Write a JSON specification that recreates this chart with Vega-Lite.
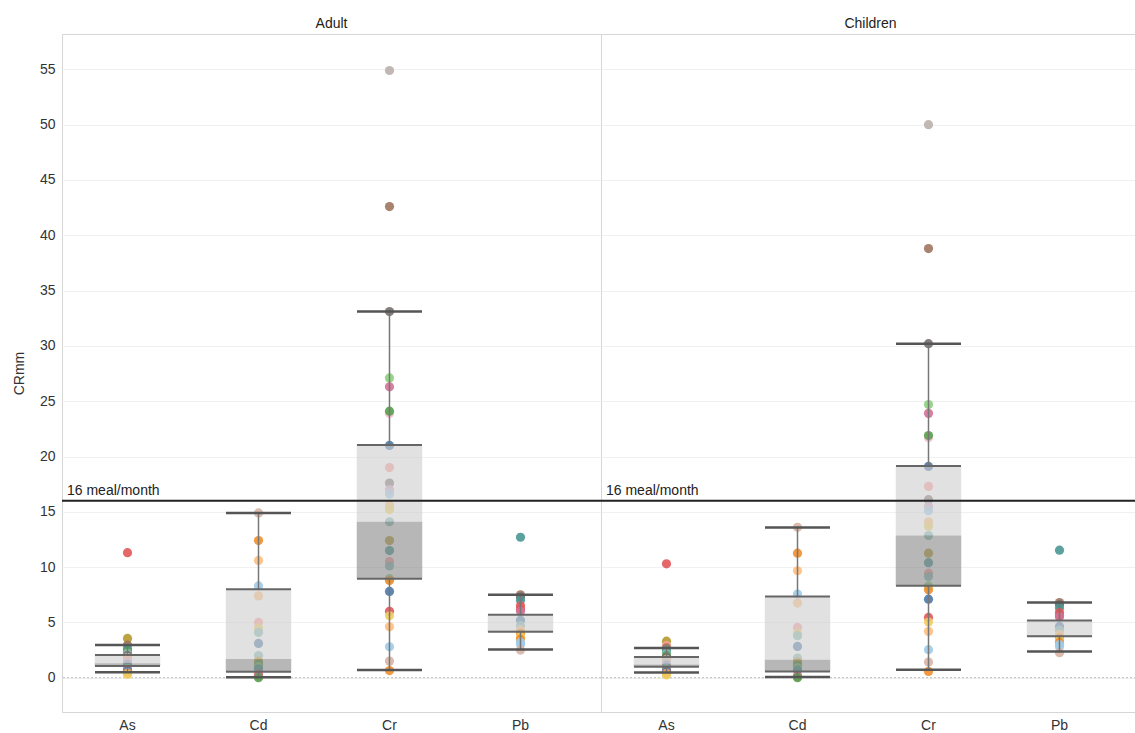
{
  "$schema": "https://vega.github.io/schema/vega-lite/v6.json",
  "padding": {"left": 12, "top": 17, "right": 0, "bottom": 0},
  "background": "white",
  "bounds": "flush",
  "config": {
    "font": "Liberation Sans",
    "view": {"stroke": "#d6d6d6", "strokeWidth": 1},
    "axis": {"labelFont": "Liberation Sans", "titleFont": "Liberation Sans"},
    "header": {"labelFont": "Liberation Sans"}
  },
  "data": {"values": [
    {"g":"Adult","k":"ref"},
    {"g":"Children","k":"ref"},
    {"g":"Adult","m":"As","k":"box","lo":0.5,"q1":1.05,"med":1.3,"q3":2.05,"hi":2.95},
    {"g":"Adult","m":"Cd","k":"box","lo":0.05,"q1":0.55,"med":1.7,"q3":8.0,"hi":14.9},
    {"g":"Adult","m":"Cr","k":"box","lo":0.7,"q1":8.95,"med":14.1,"q3":21.05,"hi":33.1},
    {"g":"Adult","m":"Pb","k":"box","lo":2.55,"q1":4.15,"med":4.25,"q3":5.7,"hi":7.5},
    {"g":"Children","m":"As","k":"box","lo":0.48,"q1":1.0,"med":1.2,"q3":1.87,"hi":2.68},
    {"g":"Children","m":"Cd","k":"box","lo":0.06,"q1":0.57,"med":1.63,"q3":7.35,"hi":13.58},
    {"g":"Children","m":"Cr","k":"box","lo":0.72,"q1":8.31,"med":12.85,"q3":19.15,"hi":30.2},
    {"g":"Children","m":"Pb","k":"box","lo":2.38,"q1":3.75,"med":3.85,"q3":5.18,"hi":6.8},

    {"g":"Adult","m":"As","k":"pt","s":"S11","v":11.3},
    {"g":"Adult","m":"As","k":"pt","s":"S07","v":3.55},
    {"g":"Adult","m":"As","k":"pt","s":"S19","v":2.95},
    {"g":"Adult","m":"As","k":"pt","s":"S09","v":2.6},
    {"g":"Adult","m":"As","k":"pt","s":"S05","v":2.35},
    {"g":"Adult","m":"As","k":"pt","s":"S10","v":2.2},
    {"g":"Adult","m":"As","k":"pt","s":"S13","v":2.0},
    {"g":"Adult","m":"As","k":"pt","s":"S20","v":1.85},
    {"g":"Adult","m":"As","k":"pt","s":"S04","v":1.65},
    {"g":"Adult","m":"As","k":"pt","s":"S12","v":1.5},
    {"g":"Adult","m":"As","k":"pt","s":"S02","v":1.35},
    {"g":"Adult","m":"As","k":"pt","s":"S17","v":1.2},
    {"g":"Adult","m":"As","k":"pt","s":"S14","v":1.1},
    {"g":"Adult","m":"As","k":"pt","s":"S01","v":1.0},
    {"g":"Adult","m":"As","k":"pt","s":"S06","v":0.85},
    {"g":"Adult","m":"As","k":"pt","s":"S15","v":0.7},
    {"g":"Adult","m":"As","k":"pt","s":"S01","v":0.6},
    {"g":"Adult","m":"As","k":"pt","s":"S18","v":0.45},
    {"g":"Adult","m":"As","k":"pt","s":"S03","v":0.4},
    {"g":"Adult","m":"As","k":"pt","s":"S08","v":0.3},

    {"g":"Adult","m":"Cd","k":"pt","s":"S20","v":14.9},
    {"g":"Adult","m":"Cd","k":"pt","s":"S03","v":12.4},
    {"g":"Adult","m":"Cd","k":"pt","s":"S04","v":10.6},
    {"g":"Adult","m":"Cd","k":"pt","s":"S02","v":8.3},
    {"g":"Adult","m":"Cd","k":"pt","s":"S04","v":7.4},
    {"g":"Adult","m":"Cd","k":"pt","s":"S12","v":5.0},
    {"g":"Adult","m":"Cd","k":"pt","s":"S08","v":4.5},
    {"g":"Adult","m":"Cd","k":"pt","s":"S10","v":4.1},
    {"g":"Adult","m":"Cd","k":"pt","s":"S01","v":3.1},
    {"g":"Adult","m":"Cd","k":"pt","s":"S10","v":2.0},
    {"g":"Adult","m":"Cd","k":"pt","s":"S07","v":1.5},
    {"g":"Adult","m":"Cd","k":"pt","s":"S05","v":1.2},
    {"g":"Adult","m":"Cd","k":"pt","s":"S06","v":1.0},
    {"g":"Adult","m":"Cd","k":"pt","s":"S09","v":0.8},
    {"g":"Adult","m":"Cd","k":"pt","s":"S11","v":0.3},
    {"g":"Adult","m":"Cd","k":"pt","s":"S15","v":0.15},
    {"g":"Adult","m":"Cd","k":"pt","s":"S05","v":0.0},

    {"g":"Adult","m":"Cr","k":"pt","s":"S14","v":54.9},
    {"g":"Adult","m":"Cr","k":"pt","s":"S19","v":42.6},
    {"g":"Adult","m":"Cr","k":"pt","s":"S13","v":33.1},
    {"g":"Adult","m":"Cr","k":"pt","s":"S06","v":27.1},
    {"g":"Adult","m":"Cr","k":"pt","s":"S15","v":26.3},
    {"g":"Adult","m":"Cr","k":"pt","s":"S16","v":23.9},
    {"g":"Adult","m":"Cr","k":"pt","s":"S05","v":24.1},
    {"g":"Adult","m":"Cr","k":"pt","s":"S01","v":21.0},
    {"g":"Adult","m":"Cr","k":"pt","s":"S12","v":19.0},
    {"g":"Adult","m":"Cr","k":"pt","s":"S13","v":17.6},
    {"g":"Adult","m":"Cr","k":"pt","s":"S18","v":17.0},
    {"g":"Adult","m":"Cr","k":"pt","s":"S02","v":16.6},
    {"g":"Adult","m":"Cr","k":"pt","s":"S04","v":15.6},
    {"g":"Adult","m":"Cr","k":"pt","s":"S08","v":15.2},
    {"g":"Adult","m":"Cr","k":"pt","s":"S10","v":14.1},
    {"g":"Adult","m":"Cr","k":"pt","s":"S07","v":12.4},
    {"g":"Adult","m":"Cr","k":"pt","s":"S09","v":11.5},
    {"g":"Adult","m":"Cr","k":"pt","s":"S12","v":10.5},
    {"g":"Adult","m":"Cr","k":"pt","s":"S10","v":10.1},
    {"g":"Adult","m":"Cr","k":"pt","s":"S06","v":8.95},
    {"g":"Adult","m":"Cr","k":"pt","s":"S03","v":8.8},
    {"g":"Adult","m":"Cr","k":"pt","s":"S01","v":7.8},
    {"g":"Adult","m":"Cr","k":"pt","s":"S11","v":6.0},
    {"g":"Adult","m":"Cr","k":"pt","s":"S08","v":5.6},
    {"g":"Adult","m":"Cr","k":"pt","s":"S04","v":4.6},
    {"g":"Adult","m":"Cr","k":"pt","s":"S02","v":2.8},
    {"g":"Adult","m":"Cr","k":"pt","s":"S20","v":1.5},
    {"g":"Adult","m":"Cr","k":"pt","s":"S03","v":0.65},

    {"g":"Adult","m":"Pb","k":"pt","s":"S09","v":12.7},
    {"g":"Adult","m":"Pb","k":"pt","s":"S19","v":7.5},
    {"g":"Adult","m":"Pb","k":"pt","s":"S13","v":7.3},
    {"g":"Adult","m":"Pb","k":"pt","s":"S09","v":7.0},
    {"g":"Adult","m":"Pb","k":"pt","s":"S11","v":6.5},
    {"g":"Adult","m":"Pb","k":"pt","s":"S11","v":6.2},
    {"g":"Adult","m":"Pb","k":"pt","s":"S15","v":6.0},
    {"g":"Adult","m":"Pb","k":"pt","s":"S01","v":5.2},
    {"g":"Adult","m":"Pb","k":"pt","s":"S10","v":4.7},
    {"g":"Adult","m":"Pb","k":"pt","s":"S04","v":4.3},
    {"g":"Adult","m":"Pb","k":"pt","s":"S03","v":4.0},
    {"g":"Adult","m":"Pb","k":"pt","s":"S08","v":3.7},
    {"g":"Adult","m":"Pb","k":"pt","s":"S03","v":3.5},
    {"g":"Adult","m":"Pb","k":"pt","s":"S02","v":3.2},
    {"g":"Adult","m":"Pb","k":"pt","s":"S02","v":3.0},
    {"g":"Adult","m":"Pb","k":"pt","s":"S20","v":2.5},

    {"g":"Children","m":"As","k":"pt","s":"S11","v":10.3},
    {"g":"Children","m":"As","k":"pt","s":"S07","v":3.3},
    {"g":"Children","m":"As","k":"pt","s":"S12","v":2.9},
    {"g":"Children","m":"As","k":"pt","s":"S19","v":2.7},
    {"g":"Children","m":"As","k":"pt","s":"S09","v":2.45},
    {"g":"Children","m":"As","k":"pt","s":"S10","v":2.2},
    {"g":"Children","m":"As","k":"pt","s":"S05","v":2.0},
    {"g":"Children","m":"As","k":"pt","s":"S13","v":1.85},
    {"g":"Children","m":"As","k":"pt","s":"S20","v":1.65},
    {"g":"Children","m":"As","k":"pt","s":"S04","v":1.5},
    {"g":"Children","m":"As","k":"pt","s":"S02","v":1.3},
    {"g":"Children","m":"As","k":"pt","s":"S17","v":1.15},
    {"g":"Children","m":"As","k":"pt","s":"S14","v":1.05},
    {"g":"Children","m":"As","k":"pt","s":"S01","v":0.95},
    {"g":"Children","m":"As","k":"pt","s":"S06","v":0.8},
    {"g":"Children","m":"As","k":"pt","s":"S15","v":0.65},
    {"g":"Children","m":"As","k":"pt","s":"S01","v":0.55},
    {"g":"Children","m":"As","k":"pt","s":"S18","v":0.4},
    {"g":"Children","m":"As","k":"pt","s":"S03","v":0.35},
    {"g":"Children","m":"As","k":"pt","s":"S08","v":0.25},

    {"g":"Children","m":"Cd","k":"pt","s":"S20","v":13.6},
    {"g":"Children","m":"Cd","k":"pt","s":"S03","v":11.26},
    {"g":"Children","m":"Cd","k":"pt","s":"S04","v":9.67},
    {"g":"Children","m":"Cd","k":"pt","s":"S02","v":7.56},
    {"g":"Children","m":"Cd","k":"pt","s":"S04","v":6.75},
    {"g":"Children","m":"Cd","k":"pt","s":"S12","v":4.55},
    {"g":"Children","m":"Cd","k":"pt","s":"S08","v":4.0},
    {"g":"Children","m":"Cd","k":"pt","s":"S10","v":3.8},
    {"g":"Children","m":"Cd","k":"pt","s":"S01","v":2.83},
    {"g":"Children","m":"Cd","k":"pt","s":"S10","v":1.78},
    {"g":"Children","m":"Cd","k":"pt","s":"S07","v":1.4},
    {"g":"Children","m":"Cd","k":"pt","s":"S05","v":1.1},
    {"g":"Children","m":"Cd","k":"pt","s":"S06","v":0.9},
    {"g":"Children","m":"Cd","k":"pt","s":"S09","v":0.7},
    {"g":"Children","m":"Cd","k":"pt","s":"S11","v":0.15},
    {"g":"Children","m":"Cd","k":"pt","s":"S15","v":0.1},
    {"g":"Children","m":"Cd","k":"pt","s":"S05","v":0.0},

    {"g":"Children","m":"Cr","k":"pt","s":"S14","v":50.0},
    {"g":"Children","m":"Cr","k":"pt","s":"S19","v":38.8},
    {"g":"Children","m":"Cr","k":"pt","s":"S13","v":30.2},
    {"g":"Children","m":"Cr","k":"pt","s":"S06","v":24.7},
    {"g":"Children","m":"Cr","k":"pt","s":"S15","v":23.9},
    {"g":"Children","m":"Cr","k":"pt","s":"S16","v":21.7},
    {"g":"Children","m":"Cr","k":"pt","s":"S05","v":21.9},
    {"g":"Children","m":"Cr","k":"pt","s":"S01","v":19.1},
    {"g":"Children","m":"Cr","k":"pt","s":"S12","v":17.3},
    {"g":"Children","m":"Cr","k":"pt","s":"S13","v":16.1},
    {"g":"Children","m":"Cr","k":"pt","s":"S18","v":15.5},
    {"g":"Children","m":"Cr","k":"pt","s":"S02","v":15.1},
    {"g":"Children","m":"Cr","k":"pt","s":"S04","v":14.1},
    {"g":"Children","m":"Cr","k":"pt","s":"S08","v":13.7},
    {"g":"Children","m":"Cr","k":"pt","s":"S10","v":12.85},
    {"g":"Children","m":"Cr","k":"pt","s":"S07","v":11.26},
    {"g":"Children","m":"Cr","k":"pt","s":"S09","v":10.4},
    {"g":"Children","m":"Cr","k":"pt","s":"S12","v":9.45},
    {"g":"Children","m":"Cr","k":"pt","s":"S10","v":9.15},
    {"g":"Children","m":"Cr","k":"pt","s":"S06","v":8.3},
    {"g":"Children","m":"Cr","k":"pt","s":"S03","v":7.95},
    {"g":"Children","m":"Cr","k":"pt","s":"S01","v":7.1},
    {"g":"Children","m":"Cr","k":"pt","s":"S11","v":5.45},
    {"g":"Children","m":"Cr","k":"pt","s":"S08","v":5.03},
    {"g":"Children","m":"Cr","k":"pt","s":"S04","v":4.19},
    {"g":"Children","m":"Cr","k":"pt","s":"S02","v":2.53},
    {"g":"Children","m":"Cr","k":"pt","s":"S20","v":1.42},
    {"g":"Children","m":"Cr","k":"pt","s":"S03","v":0.57},

    {"g":"Children","m":"Pb","k":"pt","s":"S09","v":11.53},
    {"g":"Children","m":"Pb","k":"pt","s":"S19","v":6.8},
    {"g":"Children","m":"Pb","k":"pt","s":"S13","v":6.6},
    {"g":"Children","m":"Pb","k":"pt","s":"S09","v":6.3},
    {"g":"Children","m":"Pb","k":"pt","s":"S11","v":5.9},
    {"g":"Children","m":"Pb","k":"pt","s":"S11","v":5.6},
    {"g":"Children","m":"Pb","k":"pt","s":"S15","v":5.5},
    {"g":"Children","m":"Pb","k":"pt","s":"S01","v":4.64},
    {"g":"Children","m":"Pb","k":"pt","s":"S10","v":4.3},
    {"g":"Children","m":"Pb","k":"pt","s":"S04","v":3.9},
    {"g":"Children","m":"Pb","k":"pt","s":"S03","v":3.6},
    {"g":"Children","m":"Pb","k":"pt","s":"S08","v":3.4},
    {"g":"Children","m":"Pb","k":"pt","s":"S03","v":3.2},
    {"g":"Children","m":"Pb","k":"pt","s":"S02","v":3.0},
    {"g":"Children","m":"Pb","k":"pt","s":"S02","v":2.8},
    {"g":"Children","m":"Pb","k":"pt","s":"S20","v":2.26}
  ]},
  "facet": {
    "column": {
      "field": "g", "type": "nominal", "sort": ["Adult", "Children"],
      "header": {"title": null, "labelFontSize": 14, "labelColor": "#222", "labelPadding": 3}
    }
  },
  "spacing": 0,
  "resolve": {"scale": {"x": "shared", "y": "shared"}},
  "spec": {
    "width": 539,
    "height": 678,
    "encoding": {
      "x": {
        "field": "m", "type": "nominal", "sort": ["As", "Cd", "Cr", "Pb"],
        "scale": {"domain": ["As", "Cd", "Cr", "Pb"], "paddingInner": 0, "paddingOuter": 0.0573, "align": 0},
        "axis": {"title": null, "labelAngle": 0, "ticks": false, "domain": false, "labelFontSize": 14, "labelColor": "#333", "labelPadding": 6}
      }
    },
    "layer": [
      {
        "transform": [{"filter": "datum.k === 'ref'"}],
        "mark": {"type": "rule", "color": "#bbbbbb", "strokeDash": [2, 2], "strokeWidth": 1},
        "encoding": {"x": null, "y": {"datum": 0, "type": "quantitative"}}
      },
      {
        "transform": [{"filter": "datum.k === 'pt'"}],
        "mark": {"type": "circle", "size": 85, "opacity": 0.9},
        "encoding": {
          "y": {
            "field": "v", "type": "quantitative",
            "scale": {"domain": [-3.1, 58.2], "nice": false, "zero": false},
            "axis": {
              "title": "CRmm", "titleFontSize": 14, "titleFontWeight": "normal", "titleColor": "#333", "titlePadding": 6,
              "values": [0, 5, 10, 15, 20, 25, 30, 35, 40, 45, 50, 55],
              "labelFontSize": 14, "labelColor": "#333", "labelPadding": 7,
              "ticks": false, "domain": false, "grid": true, "gridColor": "#f0f0f0",
              "minExtent": 30, "maxExtent": 30
            }
          },
          "color": {
            "field": "s", "type": "nominal", "legend": null,
            "scale": {
              "domain": ["S01","S02","S03","S04","S05","S06","S07","S08","S09","S10","S11","S12","S13","S14","S15","S16","S17","S18","S19","S20"],
              "range": ["#4e79a7","#a0cbe8","#f28e2b","#ffbe7d","#59a14f","#8cd17d","#b6992d","#f1ce63","#499894","#86bcb6","#e15759","#ff9d9a","#79706e","#bab0ac","#d37295","#fabfd2","#b07aa1","#d4a6c8","#9d7660","#d7b5a6"]
            }
          }
        }
      },
      {
        "transform": [{"filter": "datum.k === 'box'"}],
        "mark": {"type": "bar", "color": "#cfcfcf", "opacity": 0.62, "width": {"band": 0.5}},
        "encoding": {"y": {"field": "med", "type": "quantitative"}, "y2": {"field": "q3"}}
      },
      {
        "transform": [{"filter": "datum.k === 'box'"}],
        "mark": {"type": "bar", "color": "#8a8a8a", "opacity": 0.62, "width": {"band": 0.5}},
        "encoding": {"y": {"field": "q1", "type": "quantitative"}, "y2": {"field": "med"}}
      },
      {
        "transform": [{"filter": "datum.k === 'box'"}],
        "mark": {"type": "rule", "color": "#777777", "strokeWidth": 1.5},
        "encoding": {"y": {"field": "q3", "type": "quantitative"}, "y2": {"field": "hi"}}
      },
      {
        "transform": [{"filter": "datum.k === 'box'"}],
        "mark": {"type": "rule", "color": "#777777", "strokeWidth": 1.5},
        "encoding": {"y": {"field": "lo", "type": "quantitative"}, "y2": {"field": "q1"}}
      },
      {
        "transform": [{"filter": "datum.k === 'box'"}],
        "mark": {"type": "tick", "color": "#666666", "thickness": 2, "size": 65, "opacity": 1},
        "encoding": {"y": {"field": "q3", "type": "quantitative"}}
      },
      {
        "transform": [{"filter": "datum.k === 'box'"}],
        "mark": {"type": "tick", "color": "#666666", "thickness": 2, "size": 65, "opacity": 1},
        "encoding": {"y": {"field": "q1", "type": "quantitative"}}
      },
      {
        "transform": [{"filter": "datum.k === 'box'"}],
        "mark": {"type": "tick", "color": "#555555", "thickness": 2.5, "size": 65, "opacity": 1},
        "encoding": {"y": {"field": "hi", "type": "quantitative"}}
      },
      {
        "transform": [{"filter": "datum.k === 'box'"}],
        "mark": {"type": "tick", "color": "#555555", "thickness": 2.5, "size": 65, "opacity": 1},
        "encoding": {"y": {"field": "lo", "type": "quantitative"}}
      },
      {
        "transform": [{"filter": "datum.k === 'ref'"}],
        "mark": {"type": "rule", "color": "#222222", "strokeWidth": 2},
        "encoding": {"x": null, "y": {"datum": 16, "type": "quantitative"}}
      },
      {
        "transform": [{"filter": "datum.k === 'ref'"}],
        "mark": {"type": "text", "text": "16 meal/month", "align": "left", "baseline": "bottom", "dx": 5, "dy": -3, "fontSize": 14, "color": "#222222"},
        "encoding": {"x": {"datum": "As", "type": "nominal", "bandPosition": 0}, "y": {"datum": 16, "type": "quantitative"}}
      }
    ]
  }
}
